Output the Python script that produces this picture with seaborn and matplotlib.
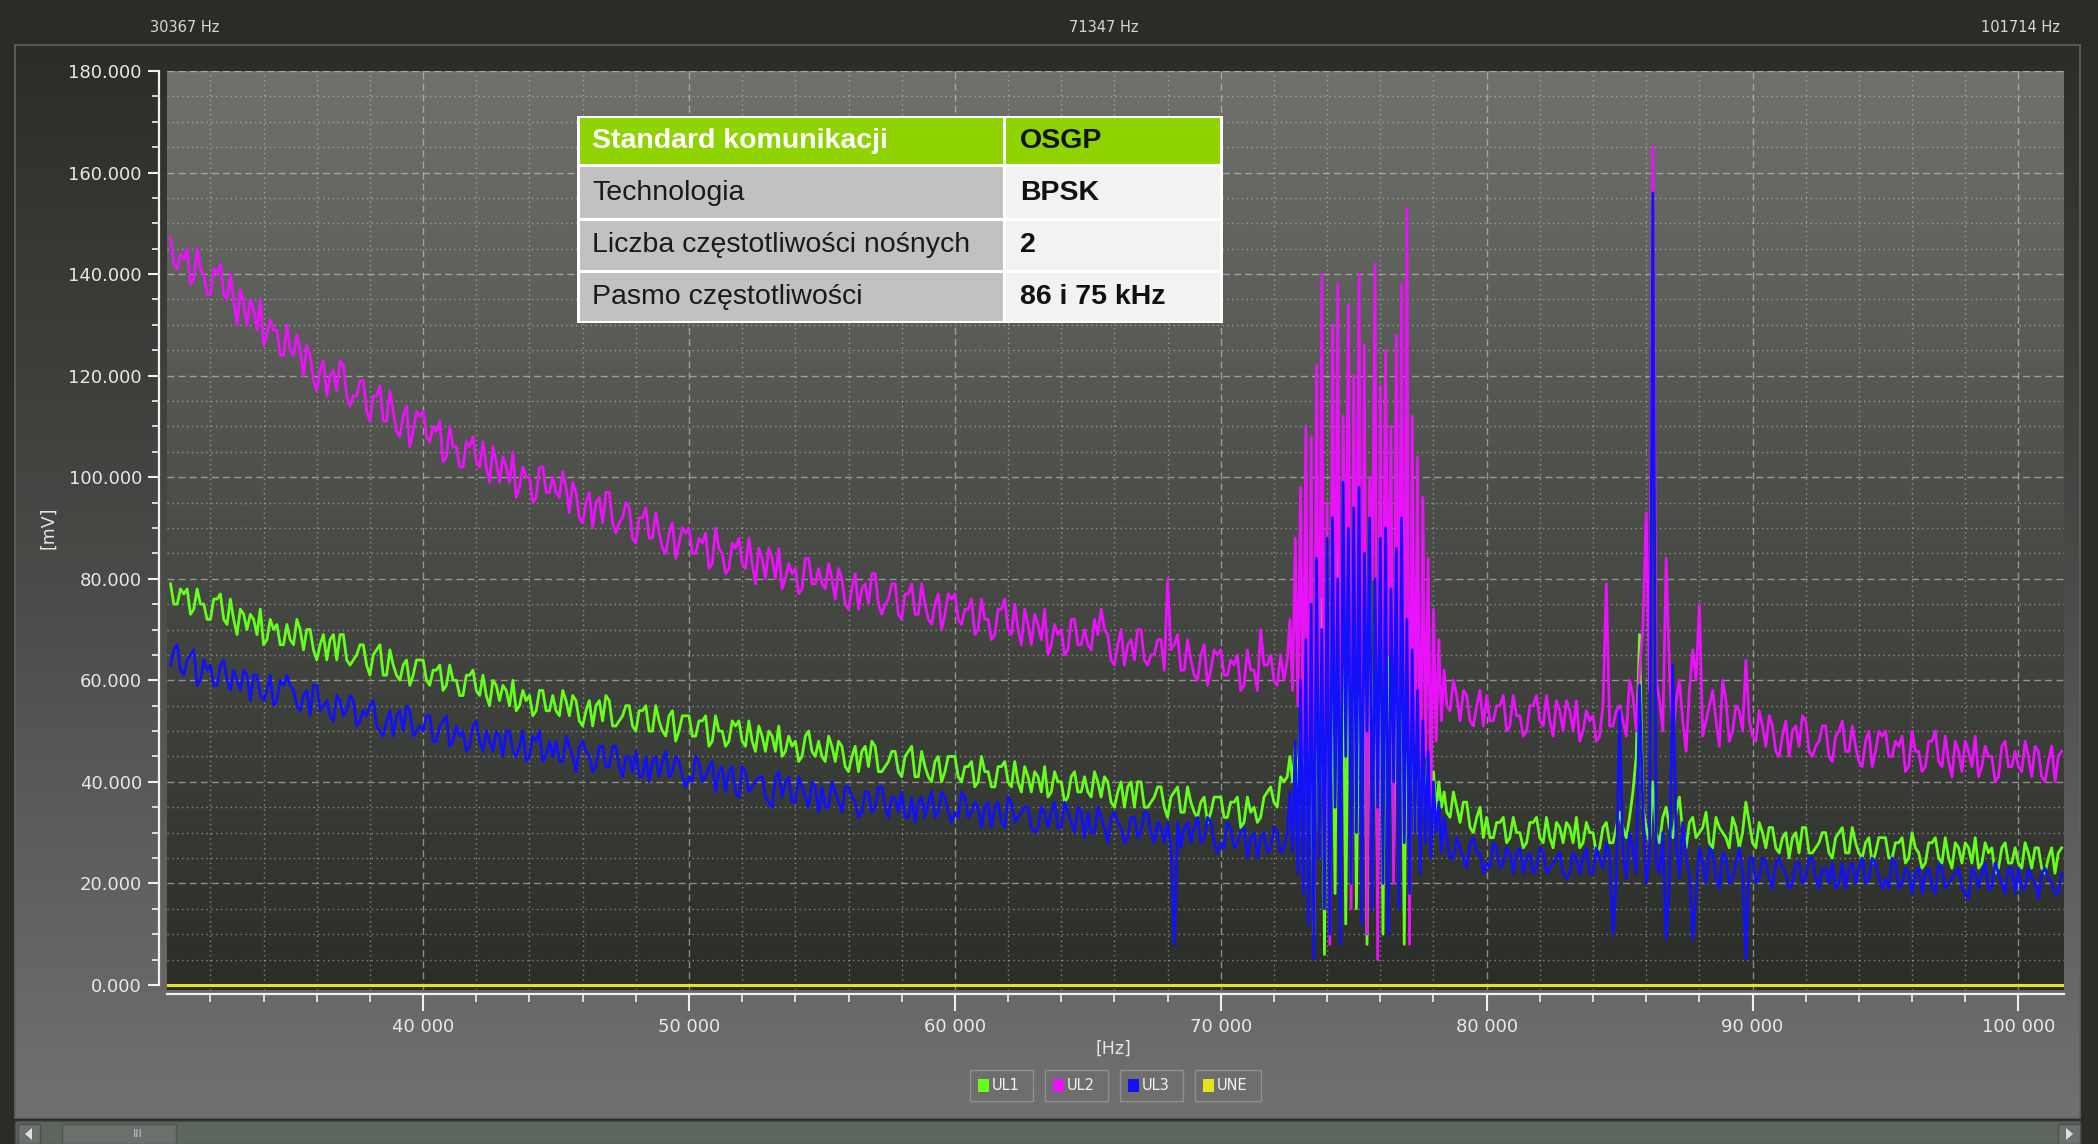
import numpy as np
import pandas as pd
import matplotlib
matplotlib.use("Agg")
import matplotlib.pyplot as plt
from matplotlib.patches import Rectangle, Polygon
from matplotlib.colors import LinearSegmentedColormap
from matplotlib.ticker import MultipleLocator, FuncFormatter
import seaborn as sns

# frequency grid [Hz] - 125 Hz steps, 100 Hz inside the 72.5-78.4 kHz burst
freq = np.concatenate([np.arange(30500, 72500, 125),
                       np.arange(72500, 78500, 100),
                       np.arange(78500, 101700, 125)])

# UL1 [mV]
ul1 = (
    [79, 75, 75, 78, 77, 78, 73, 74, 78, 75, 75, 72, 72, 76, 76, 77, 72, 71, 76, 72, 69, 74, 73, 70, 73, 72, 69, 74, 67, 68, 72, 70, 71, 67, 67, 71]
    + [68, 67, 72, 70, 66, 70, 70, 66, 64, 67, 69, 64, 68, 69, 64, 69, 69, 64, 63, 64, 65, 67, 67, 63, 61, 65, 66, 67, 61, 61, 66, 63, 61, 60, 63, 64, 59, 61, 64, 64]
    + [64, 60, 59, 62, 62, 63, 58, 59, 63, 60, 60, 57, 57, 61, 61, 62, 58, 57, 61, 57, 55, 60, 59, 56, 59, 58, 55, 60, 54, 55, 58, 56, 57, 53, 54, 58, 58, 54, 54, 57]
    + [54, 53, 58, 56, 53, 57, 56, 52, 51, 54, 56, 51, 55, 56, 52, 57, 56, 51, 51, 52, 53, 55, 55, 51, 50, 54, 54, 55, 50, 50, 55, 52, 50, 49, 53, 54, 48, 50, 53, 53]
    + [53, 49, 49, 52, 52, 53, 47, 48, 53, 50, 50, 47, 48, 52, 51, 52, 48, 47, 52, 48, 46, 51, 49, 46, 50, 49, 46, 51, 45, 46, 49, 47, 48, 44, 45, 49, 50, 46, 45, 48]
    + [45, 44, 49, 47, 44, 48, 47, 43, 42, 45, 47, 42, 46, 47, 43, 48, 47, 42, 42, 43, 44, 46, 46, 42, 41, 45, 46, 47, 41, 41, 46, 43, 41, 40, 44, 45, 40, 42, 45, 45]
    + [45, 41, 40, 43, 43, 44, 39, 40, 45, 42, 42, 39, 39, 43, 43, 44, 40, 39, 44, 40, 38, 43, 41, 38, 42, 41, 38, 43, 37, 38, 42, 40, 40, 36, 37, 41, 42, 38, 38, 41]
    + [38, 37, 42, 40, 37, 41, 40, 36, 35, 38, 40, 35, 39, 40, 35, 40, 40, 35, 35, 36, 37, 39, 39, 35, 33, 37, 38, 39, 34, 34, 39, 36, 34, 33, 36, 37, 32, 34, 37, 37]
    + [37, 33, 33, 36, 36, 37, 31, 32, 37, 34, 35, 32, 33, 37, 38, 39, 36, 35, 41, 40]
    # burst 72.5-78.4 kHz
    + [41, 45, 40, 47, 39, 52, 32, 58, 25, 64, 10, 70, 30, 76, 6,
       82, 28, 62, 18, 88, 35, 72, 12, 66, 40, 90, 15, 65, 38, 78,
       8, 85, 30, 70, 20, 80, 10, 74, 36, 92, 25, 68, 40, 78, 8,
       66, 35, 58, 30, 52, 36, 48, 33, 45, 36, 42, 34, 40, 35, 38]
    + [34, 33, 38, 35, 32, 36, 36, 31, 30, 33, 35, 29]
    + [33, 29, 29, 32, 32, 33, 28, 29, 33, 30, 30, 27, 28, 32, 32, 33, 29, 28, 33, 29, 27, 32, 31, 28, 32, 31, 28, 33, 27, 28, 32, 30, 30, 26, 27, 31, 32, 28, 28, 31]
    + [34, 31, 29, 33, 38, 45, 69, 35, 31, 28, 40, 30, 28, 33, 35, 31, 29, 34, 37, 30, 27, 32, 33, 29, 30, 31, 34, 28, 27, 33, 31, 30, 29, 27, 33, 31, 27, 30, 36, 32]
    + [28, 27, 32, 30, 27, 31, 31, 27, 26, 29, 30, 25, 29, 30, 26, 31, 31, 26, 26, 27, 28, 30, 30, 26, 25, 29, 30, 31, 26, 26, 31, 28, 26, 25, 28, 29, 24, 26, 29, 29]
    + [29, 25, 25, 28, 28, 29, 24, 25, 30, 27, 26, 23, 24, 28, 28, 29, 25, 24, 29, 25, 23, 28, 27, 24, 28, 27, 24, 29, 23, 24, 28, 26, 27, 22, 23, 27, 28, 24, 24, 27]
    + [24, 23, 28, 26, 23, 27, 27, 23, 22, 25, 27, 22, 26, 27]
)

# UL2 [mV]
ul2 = (
    [147, 142, 141, 144, 143, 145, 138, 139, 145, 141, 140, 136, 136, 141, 140, 142, 136, 135, 140, 135, 130, 137, 134, 130, 135, 133, 129, 135, 126, 128, 131, 129, 129, 124, 124, 130]
    + [125, 124, 128, 125, 120, 126, 124, 119, 117, 121, 123, 116, 120, 121, 117, 123, 122, 116, 114, 116, 116, 119, 119, 113, 111, 116, 116, 118, 111, 111, 117, 113, 109, 108, 112, 114, 106, 109, 113, 112]
    + [113, 108, 107, 110, 109, 111, 103, 104, 110, 106, 106, 102, 102, 107, 106, 108, 103, 102, 107, 102, 99, 106, 103, 99, 104, 102, 99, 105, 96, 98, 102, 100, 100, 95, 96, 102, 102, 97, 97, 100]
    + [97, 96, 101, 98, 93, 99, 97, 92, 91, 95, 97, 90, 95, 96, 91, 97, 97, 91, 89, 91, 92, 95, 94, 88, 87, 92, 92, 94, 88, 88, 93, 89, 86, 85, 89, 91, 84, 87, 90, 89]
    + [90, 85, 85, 88, 87, 89, 82, 83, 90, 86, 85, 81, 82, 87, 86, 88, 83, 82, 88, 83, 79, 86, 84, 80, 86, 84, 80, 86, 78, 80, 83, 81, 82, 77, 78, 84, 84, 79, 79, 82]
    + [79, 78, 83, 80, 76, 82, 80, 75, 74, 78, 81, 74, 78, 79, 75, 81, 81, 75, 73, 75, 76, 79, 79, 73, 72, 77, 77, 79, 73, 73, 79, 75, 72, 71, 75, 77, 70, 73, 77, 76]
    + [77, 72, 71, 74, 74, 76, 69, 70, 76, 72, 72, 68, 69, 74, 74, 76, 70, 69, 75, 70, 67, 74, 71, 67, 73, 71, 68, 74, 65, 67, 71, 69, 70, 65, 66, 72, 72, 67, 67, 70]
    + [67, 66, 72, 69, 74, 70, 69, 64, 63, 67, 70, 63, 67, 68, 64, 70, 70, 64, 63, 65, 65, 68, 68, 62, 80, 66, 67, 69, 62, 62, 68, 64, 61, 60, 65, 67, 59, 62, 66, 65]
    + [66, 61, 61, 64, 63, 65, 58, 59, 66, 62, 62, 58, 70, 63, 63, 65, 60, 59, 65, 60]
    # burst 72.5-78.4 kHz
    + [64, 72, 58, 88, 55, 98, 45, 110, 30, 108, 12, 122, 40, 140, 20,
       95, 8, 130, 55, 138, 25, 112, 70, 134, 15, 120, 60, 140, 35, 126,
       10, 100, 80, 142, 5, 118, 45, 125, 65, 110, 20, 128, 50, 138, 30,
       153, 8, 112, 40, 104, 25, 96, 45, 84, 35, 74, 48, 68, 52, 62]
    + [55, 54, 60, 57, 52, 58, 57, 52, 51, 55, 58, 51]
    + [57, 52, 52, 55, 55, 57, 50, 51, 57, 53, 53, 49, 50, 55, 55, 57, 52, 51, 57, 52, 49, 56, 54, 50, 56, 54, 50, 56, 48, 50, 54, 52, 53, 48, 49, 55, 79, 51, 51, 54]
    + [55, 52, 49, 60, 57, 50, 62, 70, 93, 58, 165, 60, 56, 50, 84, 62, 48, 56, 60, 52, 46, 58, 66, 60, 75, 49, 52, 55, 58, 52, 47, 60, 56, 48, 50, 55, 54, 50, 64, 52]
    + [49, 48, 54, 51, 47, 53, 51, 46, 45, 49, 52, 45, 50, 51, 47, 53, 52, 46, 45, 47, 48, 51, 51, 45, 44, 49, 50, 52, 46, 46, 51, 47, 44, 43, 48, 50, 43, 46, 50, 49]
    + [50, 45, 45, 48, 47, 49, 42, 43, 50, 46, 46, 42, 43, 48, 48, 50, 44, 43, 49, 44, 41, 48, 46, 42, 48, 46, 43, 49, 41, 43, 47, 45, 45, 40, 41, 47, 48, 43, 43, 46]
    + [43, 42, 48, 45, 41, 47, 46, 41, 40, 44, 47, 40, 45, 46]
)

# UL3 [mV]
ul3 = (
    [63, 66, 67, 62, 61, 64, 65, 66, 59, 60, 64, 62, 63, 59, 59, 63, 64, 60, 58, 62, 60, 58, 62, 61, 56, 61, 61, 57, 56, 58, 61, 55, 56, 60, 59, 61]
    + [59, 58, 55, 54, 57, 58, 53, 59, 59, 54, 55, 56, 53, 52, 57, 56, 53, 54, 57, 56, 51, 52, 54, 53, 55, 56, 51, 50, 49, 52, 54, 49, 53, 54, 50, 55, 54, 49, 50, 51]
    + [50, 53, 53, 48, 48, 51, 52, 53, 47, 48, 51, 49, 50, 46, 47, 51, 52, 48, 46, 50, 48, 46, 50, 49, 45, 50, 50, 46, 45, 47, 50, 44, 45, 49, 48, 50, 44, 45, 48, 45]
    + [48, 44, 44, 49, 47, 45, 42, 47, 48, 46, 45, 42, 43, 47, 47, 43, 43, 47, 47, 43, 41, 45, 45, 42, 46, 41, 41, 45, 40, 44, 45, 41, 44, 46, 41, 42, 45, 44, 41, 39]
    + [41, 40, 45, 44, 40, 41, 43, 44, 38, 42, 43, 38, 42, 43, 38, 37, 43, 42, 38, 39, 40, 41, 41, 37, 36, 35, 41, 42, 37, 40, 41, 36, 36, 41, 39, 37, 35, 40, 39, 34]
    + [39, 35, 35, 40, 38, 36, 34, 39, 39, 37, 36, 33, 34, 38, 38, 34, 35, 39, 39, 35, 33, 37, 37, 34, 38, 33, 33, 37, 32, 36, 37, 33, 36, 38, 33, 34, 38, 37, 34, 32]
    + [34, 33, 38, 37, 33, 34, 36, 35, 31, 35, 36, 31, 35, 36, 32, 31, 37, 36, 32, 33, 34, 35, 35, 31, 30, 31, 35, 34, 31, 34, 36, 31, 31, 36, 34, 32, 30, 35, 34, 29]
    + [34, 30, 30, 35, 33, 31, 28, 33, 34, 32, 31, 28, 29, 33, 33, 29, 30, 34, 34, 30, 28, 32, 31, 28, 32, 27, 8, 32, 27, 31, 32, 28, 31, 33, 28, 29, 33, 32, 28, 26]
    + [28, 27, 32, 31, 27, 28, 30, 31, 25, 29, 30, 25, 29, 30, 26, 27, 31, 30, 26, 27]
    # burst 72.5-78.4 kHz
    + [30, 38, 26, 48, 22, 60, 18, 68, 12, 75, 5, 84, 25, 70, 15,
       88, 10, 92, 35, 80, 8, 99, 45, 90, 20, 94, 30, 98, 12, 85,
       50, 92, 15, 80, 35, 88, 20, 90, 10, 78, 40, 86, 15, 92, 28,
       72, 18, 66, 30, 58, 22, 52, 28, 46, 25, 40, 30, 36, 26, 33]
    + [29, 25, 25, 29, 27, 25, 23, 28, 29, 26, 26, 22]
    + [24, 23, 28, 27, 23, 24, 27, 26, 22, 26, 27, 22, 25, 26, 22, 23, 27, 26, 22, 23, 24, 25, 26, 22, 21, 22, 26, 25, 22, 25, 27, 22, 22, 27, 25, 23, 28, 26, 10, 21]
    + [54, 26, 21, 30, 27, 22, 59, 35, 20, 25, 156, 24, 22, 30, 9, 20, 63, 28, 21, 32, 25, 22, 9, 18, 27, 24, 20, 27, 26, 21, 19, 26, 25, 20, 21, 24, 27, 22, 5, 25]
    + [25, 20, 21, 25, 24, 21, 19, 24, 25, 23, 22, 19, 20, 24, 24, 20, 21, 25, 25, 21, 19, 23, 23, 20, 24, 19, 20, 24, 19, 23, 24, 20, 23, 25, 20, 21, 25, 24, 21, 19]
    + [21, 19, 25, 24, 19, 20, 23, 22, 18, 22, 23, 18, 22, 23, 19, 18, 24, 23, 19, 20, 21, 22, 23, 19, 18, 17, 23, 22, 19, 22, 24, 19, 19, 24, 22, 20, 18, 23, 23, 18]
    + [23, 19, 19, 23, 21, 20, 17, 22, 23, 21, 20, 18, 18, 22]
)

# UNE stays flat at zero over the whole span
une_freq = [30367, 101714]
une = [0.0, 0.0]

phases = ["UL1", "UL2", "UL3", "UNE"]
colors = {"UL1": "#66ff1a", "UL2": "#ea12fa", "UL3": "#1212f8", "UNE": "#e4e41a"}

table_rows = [("Standard komunikacji", "OSGP"),
              ("Technologia", "BPSK"),
              ("Liczba częstotliwości nośnych", "2"),
              ("Pasmo częstotliwości", "86 i 75 kHz")]

assert len(ul1) == len(freq), (len(ul1), len(freq))
assert len(ul2) == len(freq), (len(ul2), len(freq))
assert len(ul3) == len(freq), (len(ul3), len(freq))

df = pd.DataFrame({
    "freq": np.tile(freq, 3),
    "value": ul1 + ul2 + ul3,
    "phase": ["UL1"] * len(freq) + ["UL2"] * len(freq) + ["UL3"] * len(freq),
})

plt.rcParams["font.family"] = ["DejaVu Sans"]

W, H = 2098, 1144
fig = plt.figure(figsize=(W / 100, H / 100), dpi=100)

# background: window frame and gradients (pixel coordinates)
bg = fig.add_axes([0, 0, 1, 1], zorder=0)
bg.set_xlim(0, W)
bg.set_ylim(H, 0)
bg.axis("off")
grad = np.linspace(0, 1, 256)[:, None]
bg.add_patch(Rectangle((0, 0), W, H, fc="#2b2b28", ec="none", zorder=-2))
panel_cmap = LinearSegmentedColormap.from_list("panel", ["#2c2c29", "#4a4a48", "#717171"])
bg.imshow(grad, cmap=panel_cmap, extent=(15, 2080, 1118, 45), aspect="auto", zorder=-1)
plot_cmap = LinearSegmentedColormap.from_list("plotarea", ["#6f716c", "#4a4c47", "#2b2d28"])
bg.imshow(grad, cmap=plot_cmap, extent=(167, 2064, 990, 71), aspect="auto", zorder=-1)
bg.add_patch(Rectangle((15, 45), 2065, 1073, fill=False, ec="#626260", lw=1.2))
# scroll bar
bg.add_patch(Rectangle((15, 1121), 2065, 23, fc="#5d655f", ec="#4a504b", lw=1))
bg.add_patch(Rectangle((18, 1124), 22, 20, fc="#6b726d", ec="#4a504b", lw=1))
bg.add_patch(Rectangle((2058, 1124), 22, 20, fc="#6b726d", ec="#4a504b", lw=1))
bg.add_patch(Rectangle((62, 1124), 114, 20, fc="#6a716c", ec="#505651", lw=1))
bg.add_patch(Polygon([[32, 1128], [32, 1140], [25, 1134]], closed=True, fc="#e0e0e0"))
bg.add_patch(Polygon([[2066, 1128], [2066, 1140], [2073, 1134]], closed=True, fc="#e0e0e0"))
bg.text(138, 1134, "III", ha="center", va="center", fontsize=8, color="#c8c8c8")

# main chart
ax = fig.add_axes([167 / W, 1 - 990 / H, (2064 - 167) / W, (990 - 71) / H], zorder=1)
ax.patch.set_alpha(0)

sns.lineplot(data=df, x="freq", y="value", hue="phase", hue_order=phases[:3],
             palette=colors, estimator=None, sort=False, linewidth=2.0,
             legend=False, ax=ax)
sns.lineplot(x=une_freq, y=une, color=colors["UNE"], linewidth=2.2, ax=ax)

ax.set_xlim(30367, 101714)
ax.set_ylim(-1, 180)
ax.set_xlabel("")
ax.set_ylabel("")

ax.xaxis.set_major_locator(MultipleLocator(10000))
ax.xaxis.set_minor_locator(MultipleLocator(2000))
ax.yaxis.set_major_locator(MultipleLocator(20))
ax.yaxis.set_minor_locator(MultipleLocator(5))
ax.xaxis.set_major_formatter(FuncFormatter(lambda v, p: f"{int(v):,}".replace(",", " ")))
ax.yaxis.set_major_formatter(FuncFormatter(lambda v, p: f"{v:.3f}"))

ax.set_axisbelow(True)
ax.grid(which="major", color="#d8d8d8", alpha=0.55, lw=1.0, ls=(0, (5, 3)))
ax.grid(which="minor", color="#d8d8d8", alpha=0.5, lw=1.0, ls=(0, (1, 2.5)))

for side in ["top", "right"]:
    ax.spines[side].set_visible(False)
ax.spines["left"].set_position(("outward", 6))
ax.spines["bottom"].set_position(("outward", 3))
for side in ["left", "bottom"]:
    ax.spines[side].set_color("#f0f0f0")
    ax.spines[side].set_linewidth(1.6)
ax.spines["left"].set_bounds(0, 180)

ax.tick_params(axis="y", which="major", length=8, width=1.5, color="#f0f0f0",
               labelcolor="#e8e8e8", labelsize=13, pad=4)
ax.tick_params(axis="y", which="minor", length=5, width=1.2, color="#f0f0f0")
ax.tick_params(axis="x", which="major", length=12, width=1.5, color="#f0f0f0",
               labelcolor="#e8e8e8", labelsize=13, pad=5)
ax.tick_params(axis="x", which="minor", length=6, width=1.2, color="#f0f0f0")

# overlay: header labels, axis titles, legend boxes, info table
ov = fig.add_axes([0, 0, 1, 1], zorder=3)
ov.set_xlim(0, W)
ov.set_ylim(H, 0)
ov.axis("off")

ov.text(185, 28, "30367 Hz", ha="center", va="center", fontsize=10.5, color="#d8d8d8")
ov.text(1104, 28, "71347 Hz", ha="center", va="center", fontsize=10.5, color="#d8d8d8")
ov.text(2020, 28, "101714 Hz", ha="center", va="center", fontsize=10.5, color="#d8d8d8")
ov.text(48, 528, "[mV]", ha="center", va="center", rotation=90, fontsize=12.5, color="#e6e6e6")
ov.text(1113, 1049, "[Hz]", ha="center", va="center", fontsize=12.5, color="#e6e6e6")

legend_x = [(970, 1033), (1045, 1108), (1120, 1183), (1195, 1261)]
for name, (x0, x1) in zip(phases, legend_x):
    ov.add_patch(Rectangle((x0, 1070), x1 - x0, 31, fc="#6e6e6e", ec="#909090", lw=1))
    ov.add_patch(Rectangle((x0 + 8, 1079), 11, 13, fc=colors[name], ec="none"))
    ov.text(x0 + 22, 1086, name, ha="left", va="center", fontsize=10.5, color="#f2f2f2")

ov.add_patch(Rectangle((577, 116), 646, 207, fc="white", ec="none"))
row_y = [(118, 164), (167, 218), (221, 270), (273, 321)]
for i, ((label, value), (y0, y1)) in enumerate(zip(table_rows, row_y)):
    header = i == 0
    ov.add_patch(Rectangle((580, y0), 423, y1 - y0, fc="#8fd300" if header else "#c1c1c1", ec="none"))
    ov.add_patch(Rectangle((1006, y0), 214, y1 - y0, fc="#8fd300" if header else "#f2f2f2", ec="none"))
    yc = (y0 + y1) / 2
    ov.text(592, yc, label, ha="left", va="center", fontsize=20.5,
            family="Liberation Sans", fontweight="bold" if header else "normal",
            color="white" if header else "#1a1a1a")
    ov.text(1020, yc, value, ha="left", va="center", fontsize=20.5,
            family="Liberation Sans", fontweight="bold", color="#111111")

fig.savefig("out.png", dpi=100)
